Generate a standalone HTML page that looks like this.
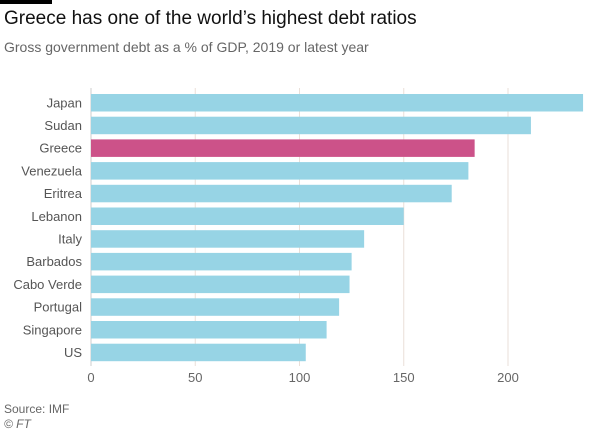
<!DOCTYPE html>
<html><head><meta charset="utf-8"><style>
body{margin:0;background:#fff;font-family:"Liberation Sans",sans-serif;}
#wrap{position:relative;width:605px;height:432px;overflow:hidden;}
</style></head><body>
<div id="wrap">
<div style="position:absolute;left:0;top:0;width:52px;height:4px;background:#000"></div>
<div style="position:absolute;left:4px;top:8px;font-size:19px;color:#111">Greece has one of the world’s highest debt ratios</div>
<div style="position:absolute;left:4px;top:39px;font-size:14px;color:#666">Gross government debt as a % of GDP, 2019 or latest year</div>
<svg id="chart" width="605" height="432" style="position:absolute;left:0;top:0"></svg>
<div style="position:absolute;left:4px;top:402px;font-size:12px;color:#666">Source: IMF</div>
<div style="position:absolute;left:4px;top:417px;font-size:12px;color:#666;font-style:italic">© FT</div>
</div>
<script>
const categories=["Japan","Sudan","Greece","Venezuela","Eritrea","Lebanon","Italy","Barbados","Cabo Verde","Portugal","Singapore","US"];
const values=[236,211,184,181,173,150,131,125,124,119,113,103];
const highlight=["Greece"];
const ticks=[0,50,100,150,200];
const svg=document.getElementById('chart');
const NS='http://www.w3.org/2000/svg';
const x0=91,pxPer=2.085,top0=94,pitch=22.7,bh=17.5;
const xs=v=>x0+v*pxPer;
const ys=i=>top0+i*pitch;
function mk(t,a){const e=document.createElementNS(NS,t);for(const k in a)e.setAttribute(k,a[k]);svg.appendChild(e);return e;}
ticks.forEach(t=>{
  const l=mk('line',{x1:xs(t),x2:xs(t),y1:88,y2:366,stroke:t===0?'#ccc':'#eadfd8','stroke-width':1});
  
  
  const tx=mk('text',{x:xs(t),y:382,'text-anchor':'middle','font-size':13,fill:'#666','font-family':'Liberation Sans, sans-serif'});
  tx.textContent=t;
  
  
});
categories.forEach((c,i)=>{
  const r=mk('rect',{x:xs(0),y:ys(i),width:xs(values[i])-xs(0),height:bh,fill:highlight.includes(c)?'#cc5289':'#97d4e5'});
  
  
  const t=mk('text',{x:82,y:ys(i)+bh/2+4.5,'text-anchor':'end','font-size':13,fill:'#555','font-family':'Liberation Sans, sans-serif'});
  t.textContent=c;
  
  
});
</script>
</body></html>
